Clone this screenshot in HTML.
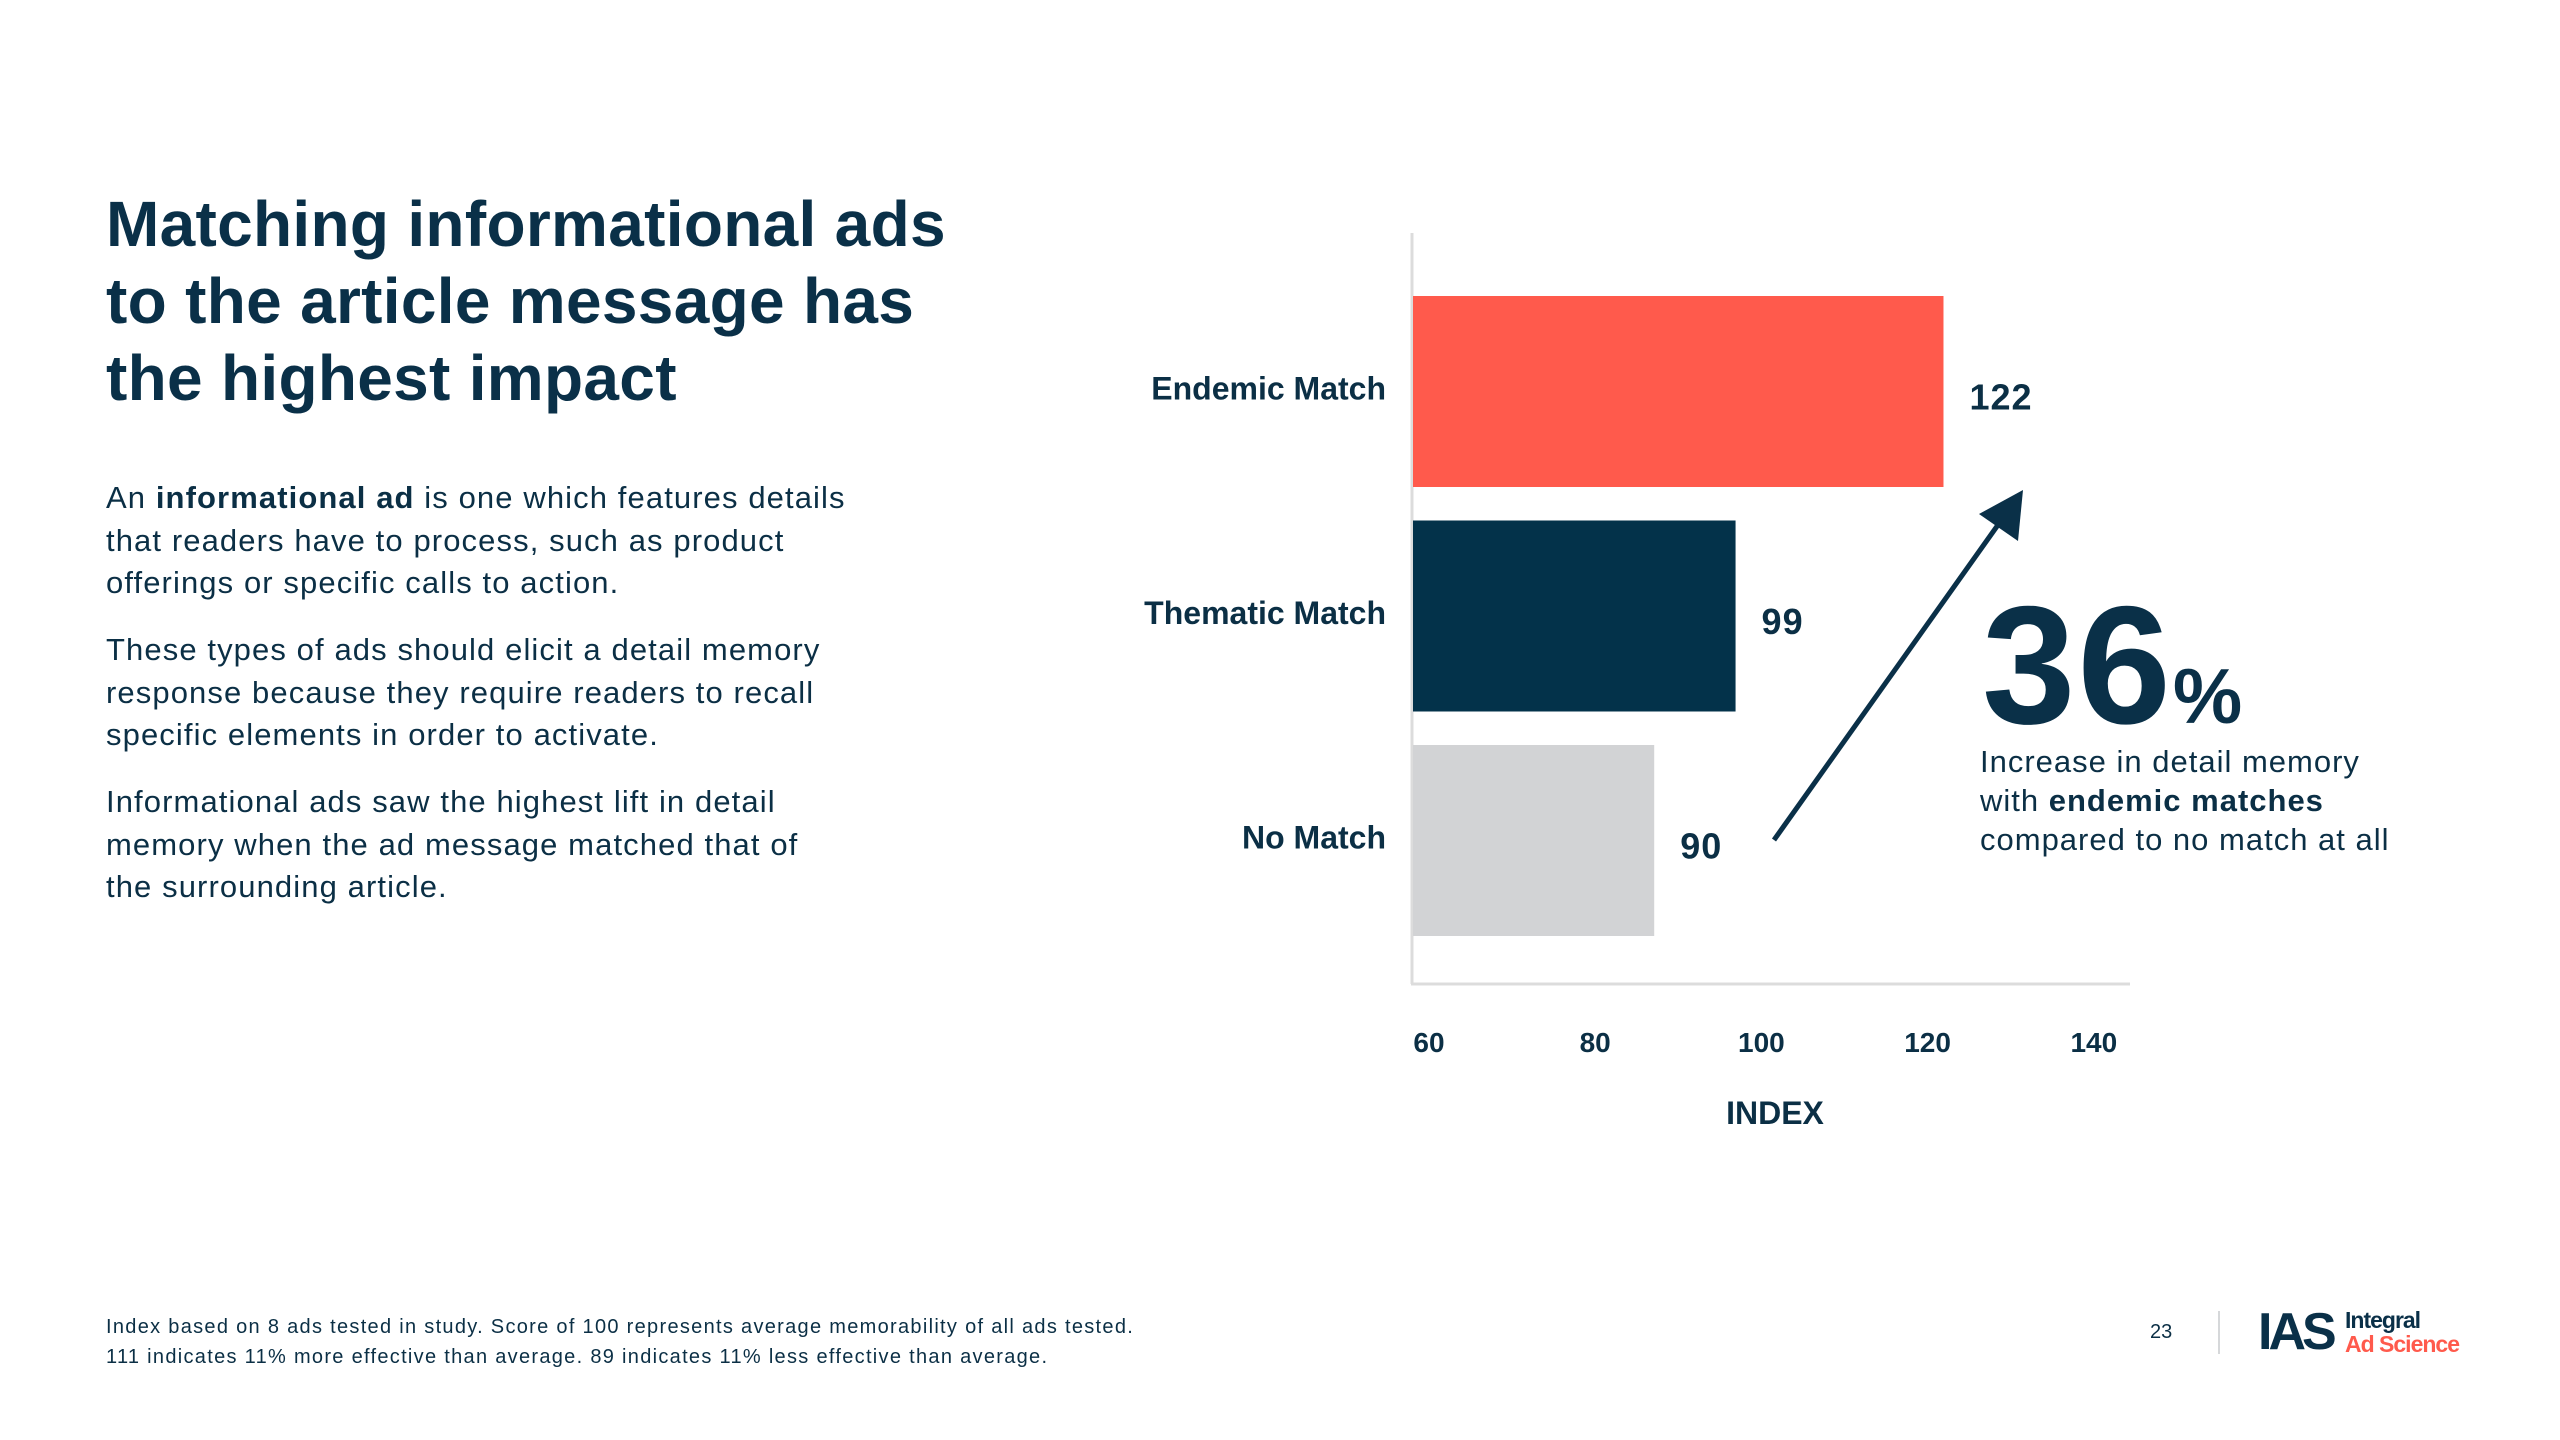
<!DOCTYPE html>
<html><head><meta charset="utf-8">
<style>
html,body{margin:0;padding:0;background:#fff;}
body{width:2560px;height:1440px;position:relative;overflow:hidden;font-family:"Liberation Sans",sans-serif;color:#0b2f45;}
.abs{position:absolute;white-space:nowrap;}
#title{left:106px;top:186px;font-size:64px;font-weight:bold;line-height:77px;letter-spacing:0.3px;color:#0a3048;}
.para{left:106px;font-size:31px;line-height:42.5px;letter-spacing:1.1px;color:#0b2f45;}
.foot{left:106px;font-size:20px;line-height:30px;letter-spacing:1.3px;color:#0b2f45;}
</style></head>
<body>
<div id="title" class="abs">Matching informational ads<br>to the article message has<br>the highest impact</div>
<div class="abs para" style="top:477px">An <b>informational ad</b> is one which features details<br>that readers have to process, such as product<br>offerings or specific calls to action.</div>
<div class="abs para" style="top:629px">These types of ads should elicit a detail memory<br>response because they require readers to recall<br>specific elements in order to activate.</div>
<div class="abs para" style="top:781px">Informational ads saw the highest lift in detail<br>memory when the ad message matched that of<br>the surrounding article.</div>

<svg class="abs" style="left:0;top:0" width="2560" height="1440">
  <g id="chart"></g>
</svg>

<div class="abs" style="left:1982px;top:570px;font-size:168px;font-weight:bold;line-height:190px;letter-spacing:2px;color:#0a3048">36<span style="font-size:78px;letter-spacing:0">%</span></div>
<div class="abs" style="left:1980px;top:742px;font-size:31px;line-height:39px;letter-spacing:1px;color:#0b2f45">Increase in detail memory<br>with <b>endemic matches</b><br>compared to no match at all</div>

<div class="abs foot" style="top:1312px">Index based on 8 ads tested in study. Score of 100 represents average memorability of all ads tested.<br>111 indicates 11% more effective than average. 89 indicates 11% less effective than average.</div>
<div class="abs" style="left:2150px;top:1321px;font-size:20px;color:#0b2f45">23</div>
<div class="abs" style="left:2218px;top:1311px;width:2px;height:43px;background:#d6d8da"></div>
<div class="abs" style="left:2258px;top:1304px;font-size:52px;font-weight:bold;letter-spacing:-4px;line-height:56px;color:#0a3048">IAS</div>
<div class="abs" style="left:2345px;top:1308px;font-size:23px;font-weight:bold;line-height:24px;letter-spacing:-1px"><span style="color:#0a3048">Integral</span><br><span style="color:#ff5a4c">Ad Science</span></div>

<script>
const categories = ["Endemic Match","Thematic Match","No Match"];
const values = [122, 99, 90];
const ticks = [60, 80, 100, 120, 140];
const colors = ["#ff5a4c","#03324a","#d2d3d5"];

const NS = "http://www.w3.org/2000/svg";
const g = document.getElementById("chart");
function x(v){ return 1383 + (v-60)*9.04; }
function tickX(v){ return 1429 + (v-60)*8.31; }
function bandY(i){ return 296 + i*224.5; }
const bandH = 191;
function mk(tag, attrs){ const e=document.createElementNS(NS,tag); for(const k in attrs) e.setAttribute(k,attrs[k]); g.appendChild(e); return e; }

const yAxis = mk("line",{x1:1412,y1:233,x2:1412,y2:984,stroke:"#dcdcdc","stroke-width":3});


const xAxis = mk("line",{x1:1411,y1:984,x2:2130,y2:984,stroke:"#dcdcdc","stroke-width":3});



categories.forEach((c,i)=>{
  const y0 = bandY(i);
  const r = mk("rect",{x:1413,y:y0,width:x(values[i])-1413,height:bandH,fill:colors[i]});
  
  
  const lab = mk("text",{x:1386,y:y0+bandH/2+8,"text-anchor":"end","font-size":32,"font-weight":"bold",fill:"#0b2f45","font-family":"Liberation Sans, sans-serif"});
  lab.textContent = c;
  
  
  const vl = mk("text",{x:x(values[i])+26,y:y0+bandH/2+18,"font-size":36,"font-weight":"bold",fill:"#0b2f45","font-family":"Liberation Sans, sans-serif","letter-spacing":"1"});
  vl.textContent = values[i];
  
  
});

ticks.forEach(t=>{
  const tl = mk("text",{x:tickX(t),y:1052,"text-anchor":"middle","font-size":28,"font-weight":"bold",fill:"#0b2f45","font-family":"Liberation Sans, sans-serif"});
  tl.textContent = t;
  
  
});
const xt = mk("text",{x:1775,y:1124,"text-anchor":"middle","font-size":32,"font-weight":"bold",fill:"#0b2f45","font-family":"Liberation Sans, sans-serif"});
xt.textContent = "INDEX";



const arr = mk("line",{x1:1774,y1:840,x2:2005,y2:515,stroke:"#0a3048","stroke-width":5});


const head = mk("polygon",{points:"2023,490 1979,514 2018,541",fill:"#0a3048"});


</script>
</body></html>
